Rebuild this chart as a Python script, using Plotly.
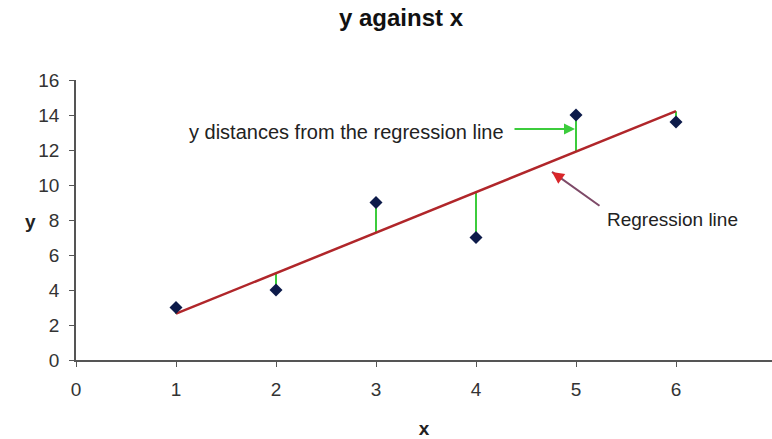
import numpy as np
import plotly.graph_objects as go

# Observations
x_vals = [1, 2, 3, 4, 5, 6]
y_vals = [3, 4, 9, 7, 14, 13.6]

# Axis ticks
x_ticks = [0, 1, 2, 3, 4, 5, 6, 7]
y_ticks = [0, 2, 4, 6, 8, 10, 12, 14, 16]

# Least-squares fit
slope, intercept = np.polyfit(x_vals, y_vals, 1)
fit_vals = [slope * xv + intercept for xv in x_vals]

FONT = "Liberation Sans, Arial, sans-serif"
AXIS_COLOR = "#555555"
TEXT_COLOR = "#222222"

W, H = 772, 439
M_L, M_R, M_T, M_B = 76, 0, 80, 79

fig = go.Figure()

# Vertical residual segments (point to fitted line)
res_x, res_y = [], []
for xv, yv, fv in zip(x_vals, y_vals, fit_vals):
    res_x += [xv, xv, None]
    res_y += [yv, fv, None]
fig.add_trace(go.Scatter(
    x=res_x, y=res_y, mode="lines",
    line=dict(color="#3ccc3c", width=2),
    hoverinfo="skip", showlegend=False,
))

# Regression line
fig.add_trace(go.Scatter(
    x=[x_vals[0], x_vals[-1]], y=[fit_vals[0], fit_vals[-1]],
    mode="lines", line=dict(color="#b0262a", width=2.5),
    showlegend=False,
))

# Data points
fig.add_trace(go.Scatter(
    x=x_vals, y=y_vals, mode="markers",
    marker=dict(symbol="diamond", size=10, color="#0d1b4a"),
    showlegend=False,
))

# Annotation: residual label with green arrow
fig.add_annotation(
    x=4.99, y=13.2, ax=4.37, ay=13.2,
    xref="x", yref="y", axref="x", ayref="y",
    showarrow=True, arrowhead=2, arrowsize=1.1, arrowwidth=2,
    arrowcolor="#3ccc3c", text="",
)
fig.add_annotation(
    x=4.30, y=13.05, xref="x", yref="y",
    text="y distances from the regression line",
    showarrow=False, xanchor="right",
    font=dict(family=FONT, size=20, color=TEXT_COLOR),
)

# Annotation: regression line label with arrow (mauve shaft, red head)
fig.add_annotation(
    x=4.76, y=10.75, ax=5.25, ay=8.75,
    xref="x", yref="y", axref="x", ayref="y",
    showarrow=True, arrowhead=0, arrowwidth=2,
    arrowcolor="#7e4a68", text="",
)
fig.add_annotation(
    x=4.76, y=10.75, ax=4.86, ay=10.34,
    xref="x", yref="y", axref="x", ayref="y",
    showarrow=True, arrowhead=2, arrowsize=1.2, arrowwidth=2,
    arrowcolor="#d8262a", text="",
)
fig.add_annotation(
    x=5.96, y=8.05, xref="x", yref="y",
    text="Regression line", showarrow=False,
    font=dict(family=FONT, size=19, color=TEXT_COLOR),
)

# Upright y-axis title
fig.add_annotation(
    x=(23 - M_L) / (W - M_L - M_R), y=7.9, xref="paper", yref="y",
    text="<b>y</b>", showarrow=False,
    font=dict(family=FONT, size=19, color=TEXT_COLOR),
)

fig.update_layout(
    width=W, height=H,
    margin=dict(l=M_L, r=M_R, t=M_T, b=M_B),
    paper_bgcolor="white", plot_bgcolor="white",
    title=dict(
        text="<b>y against x</b>", x=401 / W, xanchor="center",
        y=1 - 18 / H, yanchor="middle",
        font=dict(family=FONT, size=24, color="#111111"),
    ),
    font=dict(family=FONT, size=19, color="#333333"),
)

fig.update_xaxes(
    range=[0, 6.96], tickvals=x_ticks, ticktext=[str(t) for t in x_ticks],
    showgrid=False, zeroline=False, showline=True,
    linecolor=AXIS_COLOR, linewidth=1.5,
    ticks="outside", ticklen=5, tickcolor=AXIS_COLOR,
    ticklabelstandoff=6,
    title=dict(text="<b>x</b>", font=dict(family=FONT, size=19, color=TEXT_COLOR), standoff=23),
)
fig.update_yaxes(
    range=[0, 16], tickvals=y_ticks,
    showgrid=False, zeroline=False, showline=True,
    linecolor=AXIS_COLOR, linewidth=1.5,
    ticks="outside", ticklen=5, tickcolor=AXIS_COLOR,
    ticklabelstandoff=6,
)

fig.write_html("out.html")
